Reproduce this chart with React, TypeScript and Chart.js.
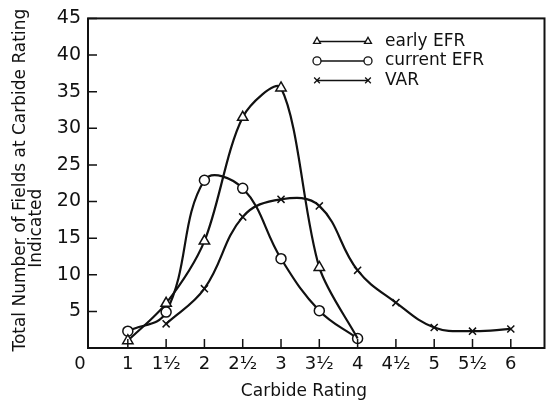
import React, { useEffect, useRef } from "react";
import { Chart, registerables } from "chart.js";
import { drawPoint } from "chart.js/helpers";

Chart.register(...registerables);

// ---- data ----
const earlyX = [1, 1.5, 2, 2.5, 3, 3.5, 4];
const earlyY = [1, 6.1, 14.6, 31.5, 35.5, 11, 1.3];
const currentX = [1, 1.5, 2, 2.5, 3, 3.5, 4];
const currentY = [2.3, 4.9, 22.9, 21.8, 12.2, 5.1, 1.3];
const varX = [1.5, 2, 2.5, 3, 3.5, 4, 4.5, 5, 5.5, 6];
const varY = [3.3, 8.1, 17.9, 20.3, 19.4, 10.6, 6.2, 2.8, 2.3, 2.6];

const seriesNames = ["early EFR", "current EFR", "VAR"];
const xTickValues = [1, 1.5, 2, 2.5, 3, 3.5, 4, 4.5, 5, 5.5, 6];
const xTickLabels = ["1", "1½", "2", "2½", "3", "3½", "4", "4½", "5", "5½", "6"];
const yTickValues = [5, 10, 15, 20, 25, 30, 35, 40, 45];
const xOriginLabel = "0";
const xTitle = "Carbide Rating";
const yTitleLines = ["Total Number of Fields at Carbide Rating", "Indicated"];

const FONT = "DejaVu Sans";
const INK = "#111";

const toPoints = (xs: number[], ys: number[]) => xs.map((x, i) => ({ x, y: ys[i] }));

const decorPlugin = {
  id: "decor",
  afterDraw(chart: any) {
    const { ctx, chartArea } = chart;
    const { left, right, top, bottom } = chartArea;
    const xs = chart.scales.x;
    const ys = chart.scales.y;
    ctx.save();
    // frame
    ctx.strokeStyle = INK;
    ctx.lineWidth = 2;
    ctx.strokeRect(left, top, right - left, bottom - top);
    // inner tick marks
    ctx.lineWidth = 1.5;
    ctx.beginPath();
    xTickValues.forEach((v) => {
      const px = xs.getPixelForValue(v);
      ctx.moveTo(px, bottom);
      ctx.lineTo(px, bottom - 9);
    });
    yTickValues.forEach((v) => {
      const py = ys.getPixelForValue(v);
      ctx.moveTo(left, py);
      ctx.lineTo(left + 9, py);
    });
    ctx.stroke();

    ctx.fillStyle = INK;
    // origin label
    ctx.font = `18px "${FONT}"`;
    ctx.textAlign = "center";
    ctx.textBaseline = "middle";
    ctx.fillText(xOriginLabel, left - 8, bottom + 16);

    // x title
    ctx.font = `17px "${FONT}"`;
    ctx.fillText(xTitle, left + 216, bottom + 44);

    // y title (two lines)
    ctx.save();
    ctx.translate(left - 67, (top + bottom) / 2 - 3);
    ctx.rotate(-Math.PI / 2);
    ctx.fillText(yTitleLines[0], 0, 0);
    ctx.restore();
    ctx.save();
    ctx.translate(left - 51, (top + bottom) / 2 + 45);
    ctx.rotate(-Math.PI / 2);
    ctx.fillText(yTitleLines[1], 0, 0);
    ctx.restore();

    // legend
    const lx0 = left + 229;
    const lx1 = lx0 + 51;
    chart.data.datasets.forEach((ds: any, i: number) => {
      const ly = top + 23 + i * 19.5;
      ctx.strokeStyle = INK;
      ctx.lineWidth = 1.5;
      ctx.beginPath();
      ctx.moveTo(lx0, ly);
      ctx.lineTo(lx1, ly);
      ctx.stroke();
      const opts = {
        pointStyle: ds.pointStyle,
        radius: 4,
        borderWidth: 1.3,
      };
      ctx.fillStyle = "#fff";
      ctx.strokeStyle = INK;
      ctx.lineWidth = 1.3;
      drawPoint(ctx, opts as any, lx0, ly);
      drawPoint(ctx, opts as any, lx1, ly);
      ctx.fillStyle = INK;
      ctx.font = `17px "${FONT}"`;
      ctx.textAlign = "left";
      ctx.textBaseline = "middle";
      ctx.fillText(seriesNames[i], lx0 + 68, ly);
    });
    ctx.restore();
  },
};

export default function App() {
  const ref = useRef<HTMLCanvasElement | null>(null);
  useEffect(() => {
    if (!ref.current) return;
    const common = {
      borderColor: INK,
      borderWidth: 2.2,
      pointBorderColor: INK,
      pointBackgroundColor: "#fff",
      pointBorderWidth: 1.5,
      tension: 0.4,
      fill: false,
    };
    const chart = new Chart(ref.current, {
      type: "line",
      data: {
        datasets: [
          {
            ...common,
            tension: 0.3,
            label: seriesNames[0],
            data: toPoints(earlyX, earlyY),
            pointStyle: "triangle",
            pointRadius: earlyX.map((_, i) => (i === earlyX.length - 1 ? 0 : 6)),
          },
          {
            ...common,
            label: seriesNames[1],
            data: toPoints(currentX, currentY),
            pointStyle: "circle",
            pointRadius: 5,
          },
          {
            ...common,
            label: seriesNames[2],
            data: toPoints(varX, varY),
            pointStyle: "crossRot",
            pointRadius: 5,
          },
        ],
      },
      options: {
        animation: false,
        responsive: true,
        maintainAspectRatio: false,
        layout: { padding: { left: 8, top: 17, right: 3, bottom: 0 } },
        plugins: { legend: { display: false }, tooltip: { enabled: false } },
        scales: {
          x: {
            type: "linear",
            min: 0.48,
            max: 6.44,
            grid: { display: false, drawTicks: false },
            border: { display: false },
            afterBuildTicks: (scale: any) => {
              scale.ticks = xTickValues.map((v) => ({ value: v }));
            },
            afterFit: (scale: any) => {
              scale.height = 55;
            },
            ticks: {
              autoSkip: false,
              maxRotation: 0,
              padding: 6,
              color: INK,
              font: { family: FONT, size: 18 },
              callback: (v: any) => xTickLabels[xTickValues.indexOf(Number(v))] ?? "",
            },
          },
          y: {
            type: "linear",
            min: 0,
            max: 45,
            grid: { display: false, drawTicks: false },
            border: { display: false },
            afterBuildTicks: (scale: any) => {
              scale.ticks = yTickValues.map((v) => ({ value: v }));
            },
            afterFit: (scale: any) => {
              scale.width = 80;
            },
            ticks: {
              padding: 7,
              color: INK,
              font: { family: FONT, size: 19 },
              callback: (v: any) => String(v),
            },
          },
        },
      },
      plugins: [decorPlugin],
    } as any);
    return () => chart.destroy();
  }, []);
  return (
    <div style={{ position: "fixed", left: 0, top: 0, width: 552, height: 403, background: "#fff" }}>
      <canvas ref={ref} />
    </div>
  );
}
